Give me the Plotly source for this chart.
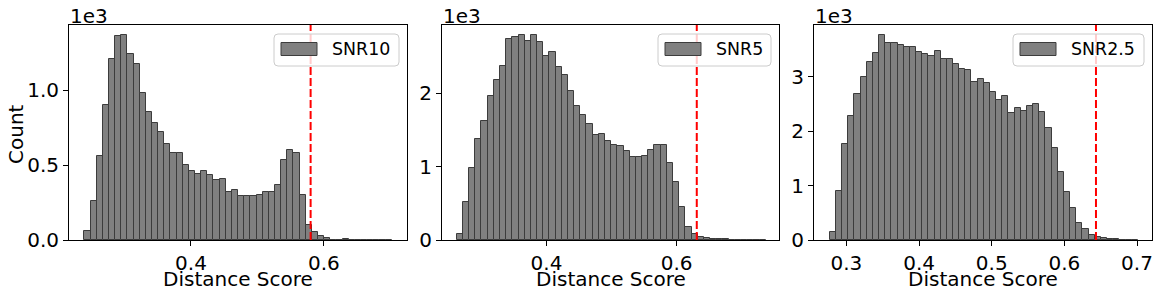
import plotly.graph_objects as go

# ---------------- data (counts in thousands) ----------------
labels = ["SNR10", "SNR5", "SNR2.5"]

snr10_bin_start = 0.2396
snr10_bin_width = 0.00925
snr10_counts = [0.06, 0.26, 0.56, 0.898, 1.211, 1.36, 1.367, 1.24, 1.173, 0.98,
                0.853, 0.778, 0.718, 0.644, 0.584, 0.578, 0.498, 0.464, 0.44, 0.458,
                0.431, 0.398, 0.404, 0.32, 0.331, 0.293, 0.293, 0.293, 0.3, 0.318,
                0.318, 0.367, 0.533, 0.604, 0.578, 0.298, 0.1, 0.052, 0.024, 0.011,
                0.001, 0.001, 0.007, 0.0, 0.0, 0.0, 0.0, 0.0, 0.0, 0.001]
snr10_threshold = 0.58

snr5_bin_start = 0.262
snr5_bin_width = 0.0095
snr5_counts = [0.077, 0.514, 0.98, 1.377, 1.618, 1.959, 2.177, 2.368, 2.736, 2.764,
               2.79, 2.709, 2.79, 2.695, 2.505, 2.559, 2.355, 2.245, 2.032, 1.823,
               1.7, 1.577, 1.427, 1.441, 1.345, 1.29, 1.277, 1.209, 1.127, 1.127,
               1.141, 1.223, 1.29, 1.29, 1.045, 0.786, 0.445, 0.177, 0.077, 0.036,
               0.023, 0.014, 0.014, 0.014, 0.002, 0.001, 0.0, 0.0, 0.0, 0.001]
snr5_threshold = 0.631

snr25_bin_start = 0.2771
snr25_bin_width = 0.00848
snr25_counts = [0.147, 0.896, 1.761, 2.276, 2.681, 2.994, 3.27, 3.436, 3.767, 3.62,
                3.62, 3.583, 3.546, 3.546, 3.454, 3.417, 3.38, 3.472, 3.325, 3.325,
                3.233, 3.141, 3.123, 2.902, 2.957, 2.883, 2.718, 2.571, 2.644, 2.331,
                2.423, 2.368, 2.46, 2.497, 2.35, 2.055, 1.693, 1.245, 0.877, 0.583,
                0.313, 0.196, 0.092, 0.055, 0.037, 0.018, 0.018, 0.002, 0.001, 0.001]
snr25_threshold = 0.6435

x_ticks = [[0.4, 0.6], [0.4, 0.6], [0.3, 0.4, 0.5, 0.6, 0.7]]
y_ticks = [[0.0, 0.5, 1.0], [0, 1, 2], [0, 1, 2, 3]]
y_tick_formats = [".1f", "d", "d"]
x_ranges = [[0.2165, 0.725], [0.2394, 0.7574], [0.2554, 0.7206]]
x_title = "Distance Score"
y_title = "Count"

# ---------------- layout helpers ----------------
W, H = 1160, 296
FONT = "DejaVu Sans"
FS = 20
LFS = 17.4
BAR_FILL = "#808080"
BAR_EDGE = "#3c3c3c"


def px(x):
    return x / W


def py(y):
    return 1 - y / H


panels_px = [(69, 407), (442, 779), (814, 1152)]
legend_widths = [125, 113, 131]
top_px, bot_px = 25, 240

series = [
    (snr10_bin_start, snr10_bin_width, snr10_counts, snr10_threshold),
    (snr5_bin_start, snr5_bin_width, snr5_counts, snr5_threshold),
    (snr25_bin_start, snr25_bin_width, snr25_counts, snr25_threshold),
]

fig = go.Figure()
shapes = []
annotations = []
txt_font = dict(family=FONT, size=FS, color="black")

for i, ((start, width, counts, thr), label) in enumerate(zip(series, labels)):
    n = "" if i == 0 else str(i + 1)
    centers = [start + width * (k + 0.5) for k in range(len(counts))]
    fig.add_trace(go.Bar(
        x=centers, y=counts, width=[width] * len(counts),
        marker=dict(color=BAR_FILL, line=dict(color=BAR_EDGE, width=1)),
        xaxis="x" + n, yaxis="y" + n, showlegend=False, name=label,
        hoverinfo="skip",
    ))
    l, r = panels_px[i]
    ymax = max(counts) * 1.05
    common = dict(showline=True, mirror=True, linecolor="black", linewidth=1,
                  ticks="outside", ticklen=5, tickwidth=1, tickcolor="black",
                  showgrid=False, zeroline=False, automargin=False,
                  tickfont=txt_font)
    fig.update_layout(**{
        "xaxis" + n: dict(domain=[px(l), px(r)], range=x_ranges[i],
                          anchor="y" + n, tickvals=x_ticks[i], tickformat=".1f",
                          **common),
        "yaxis" + n: dict(domain=[py(bot_px), py(top_px)], range=[0, ymax],
                          anchor="x" + n, tickvals=y_ticks[i],
                          tickformat=y_tick_formats[i],
                          **common),
    })
    # x axis title
    annotations.append(dict(text=x_title, xref="x" + n + " domain", yref="paper",
                            x=0.5, y=py(279), xanchor="center", yanchor="middle",
                            showarrow=False, font=txt_font))
    # threshold line
    shapes.append(dict(type="line", xref="x" + n, yref="y" + n + " domain",
                       x0=thr, x1=thr, y0=0, y1=1,
                       line=dict(color="red", width=2, dash="8px,3px")))
    # legend (box, patch, text)
    bx1 = r - 8
    bx0 = bx1 - legend_widths[i]
    by0, by1 = 34, 66
    rx, ry = 4 / W, 4 / H
    X0, X1, Y0, Y1 = px(bx0), px(bx1), py(by1), py(by0)
    path = (f"M {X0+rx},{Y0} L {X1-rx},{Y0} Q {X1},{Y0} {X1},{Y0+ry} "
            f"L {X1},{Y1-ry} Q {X1},{Y1} {X1-rx},{Y1} L {X0+rx},{Y1} "
            f"Q {X0},{Y1} {X0},{Y1-ry} L {X0},{Y0+ry} Q {X0},{Y0} {X0+rx},{Y0} Z")
    shapes.append(dict(type="path", xref="paper", yref="paper", path=path,
                       fillcolor="rgba(255,255,255,0.8)",
                       line=dict(color="#cccccc", width=1)))
    pl = bx0 + 7
    shapes.append(dict(type="rect", xref="paper", yref="paper",
                       x0=px(pl), x1=px(pl + 36), y0=py(55.5), y1=py(42.5),
                       fillcolor=BAR_FILL, line=dict(color=BAR_EDGE, width=1)))
    annotations.append(dict(text=label, xref="paper", yref="paper",
                            x=px(pl + 36 + 13), y=py(49.5), xanchor="left",
                            yanchor="middle", showarrow=False,
                            font=dict(family=FONT, size=LFS, color="black")))
    # offset text
    annotations.append(dict(text="1e3", xref="paper", yref="paper",
                            x=px(l - 1), y=py(15.5), xanchor="left", yanchor="middle",
                            showarrow=False, font=txt_font))

# y axis title (first panel only)
annotations.append(dict(text=y_title, xref="paper", yref="paper",
                        x=px(16), y=py(134), xanchor="center", yanchor="middle",
                        textangle=-90, showarrow=False, font=txt_font))

fig.update_layout(
    width=W, height=H,
    margin=dict(l=0, r=0, t=0, b=0),
    paper_bgcolor="white", plot_bgcolor="white",
    shapes=shapes, annotations=annotations,
    bargap=0, showlegend=False,
    font=txt_font,
)

fig.write_html("out.html",
               config={"displayModeBar": False},
               post_script="document.body.style.margin='0';"
                           "document.body.style.overflow='hidden';")
